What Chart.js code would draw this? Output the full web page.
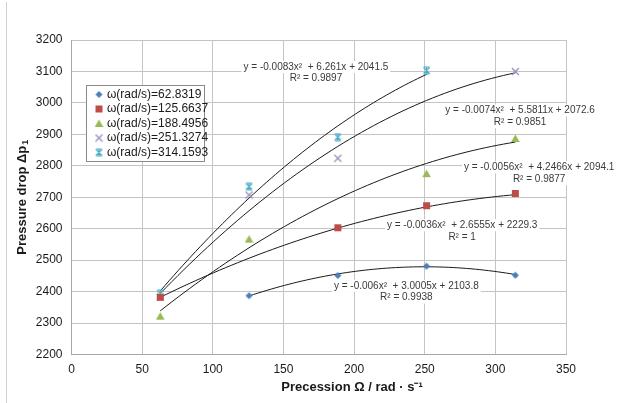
<!DOCTYPE html>
<html>
<head>
<meta charset="utf-8">
<script src="https://cdn.jsdelivr.net/npm/chart.js@4.4.1/dist/chart.umd.min.js"></script>
<style>
  html, body { margin: 0; padding: 0; background: #ffffff; }
  #wrap { width: 618px; height: 403px; position: relative; }
</style>
</head>
<body>
<div id="wrap"><canvas id="c" width="618" height="403"></canvas></div>
<script>
// Rotor speeds (legend entries)
const seriesLabels = [
  'ω(rad/s)=62.8319',
  'ω(rad/s)=125.6637',
  'ω(rad/s)=188.4956',
  'ω(rad/s)=251.3274',
  'ω(rad/s)=314.1593'
];

// Precession speed Ω (rad/s) and measured pressure drop for each rotor speed
const x_w1 = [125.6637, 188.4956, 251.3274, 314.1593];
const y_w1 = [2387, 2451, 2481, 2452];

const x_w2 = [62.8319, 188.4956, 251.3274, 314.1593];
const y_w2 = [2382, 2603, 2673, 2712];

const x_w3 = [62.8319, 125.6637, 251.3274, 314.1593];
const y_w3 = [2322, 2567, 2775, 2887];

const x_w4 = [62.8319, 125.6637, 188.4956, 314.1593];
const y_w4 = [2383, 2707, 2824, 3100];

const x_w5 = [62.8319, 125.6637, 188.4956, 251.3274];
const y_w5 = [2394, 2734, 2891, 3103];

// Quadratic trendlines y = a·x² + b·x + c and their R²
const fitA = [-0.006, -0.0036, -0.0056, -0.0074, -0.0083];
const fitB = [3.0005, 2.6555, 4.2466, 5.5811, 6.261];
const fitC = [2103.8, 2229.3, 2094.1, 2072.6, 2041.5];
const fitR2 = ['0.9938', '1', '0.9877', '0.9851', '0.9897'];

// Axis ticks
const xTicks = [0, 50, 100, 150, 200, 250, 300, 350];
const yTicks = [2200, 2300, 2400, 2500, 2600, 2700, 2800, 2900, 3000, 3100, 3200];

const xs = [x_w1, x_w2, x_w3, x_w4, x_w5];
const ys = [y_w1, y_w2, y_w3, y_w4, y_w5];

const FONT = '"Liberation Sans", Arial, sans-serif';
const colors = ['#4a7ebb', '#be4b48', '#98b954', '#9a88bc', '#4bacc6'];

// Marker glyphs
function marker(kind, color) {
  const cv = document.createElement('canvas');
  const s = 9;
  cv.width = s; cv.height = s;
  const g = cv.getContext('2d');
  g.fillStyle = color; g.strokeStyle = color; g.lineWidth = 1.2;
  if (kind === 'diamond') {
    g.beginPath(); g.moveTo(4.5, 1); g.lineTo(8, 4.5); g.lineTo(4.5, 8); g.lineTo(1, 4.5); g.closePath(); g.fill();
  } else if (kind === 'square') {
    g.fillRect(1, 1, 7, 7);
  } else if (kind === 'triangle') {
    g.beginPath(); g.moveTo(4.5, 0.5); g.lineTo(8.8, 8); g.lineTo(0.2, 8); g.closePath(); g.fill();
  } else if (kind === 'cross') {
    g.beginPath(); g.moveTo(1, 1); g.lineTo(8, 8); g.moveTo(8, 1); g.lineTo(1, 8); g.stroke();
  } else if (kind === 'star') {
    g.beginPath();
    g.moveTo(1.5, 1.5); g.lineTo(7.5, 7.5); g.moveTo(7.5, 1.5); g.lineTo(1.5, 7.5);
    g.moveTo(1.5, 1); g.lineTo(7.5, 1); g.moveTo(1.5, 8); g.lineTo(7.5, 8);
    g.moveTo(4.5, 1); g.lineTo(4.5, 8);
    g.stroke();
  }
  return cv;
}
const markerKinds = ['diamond', 'square', 'triangle', 'cross', 'star'];
const markers = markerKinds.map((k, i) => marker(k, colors[i]));

// Measured points
const pointSets = xs.map((xArr, i) => ({
  label: seriesLabels[i],
  data: xArr.map((x, j) => ({ x: x, y: ys[i][j] })),
  showLine: false,
  pointStyle: markers[i],
  pointRadius: 4,
  pointHoverRadius: 4,
  backgroundColor: colors[i],
  borderColor: colors[i]
}));

// Trendline curves sampled between the first and last measured Ω of each series
const fitSets = xs.map((xArr, i) => {
  const x0 = xArr[0], x1 = xArr[xArr.length - 1];
  const pts = [];
  const n = 60;
  for (let k = 0; k <= n; k++) {
    const x = x0 + (x1 - x0) * k / n;
    pts.push({ x: x, y: fitA[i] * x * x + fitB[i] * x + fitC[i] });
  }
  return {
    label: 'trend ' + i,
    data: pts,
    showLine: true,
    borderColor: '#1a1a1a',
    borderWidth: 1,
    pointRadius: 0,
    pointHoverRadius: 0,
    fill: false,
    tension: 0
  };
});

// Equation label centres in data coordinates (first line), per series
const eqAnchor = [[237, 2418], [276.5, 2611], [331, 2795], [317.5, 2976], [173, 3114]];

const decorations = {
  id: 'decorations',
  beforeDraw(chart) {
    const ctx = chart.ctx;
    ctx.save();
    ctx.fillStyle = '#ffffff';
    ctx.fillRect(0, 0, chart.width, chart.height);
    ctx.restore();
  },
  afterDraw(chart) {
    const ctx = chart.ctx;
    const xs_ = chart.scales.x, ys_ = chart.scales.y;
    ctx.save();

    // outer frame edge
    ctx.strokeStyle = '#d0d0d0';
    ctx.lineWidth = 1;
    ctx.beginPath(); ctx.moveTo(6.5, 2); ctx.lineTo(6.5, 403); ctx.stroke();

    // trendline equations
    ctx.font = '10px ' + FONT;
    ctx.textAlign = 'center';
    ctx.textBaseline = 'middle';
    fitA.forEach((a, i) => {
      const lines = [
        'y = ' + a + 'x²  + ' + fitB[i] + 'x + ' + fitC[i],
        'R² = ' + fitR2[i]
      ];
      const cx = xs_.getPixelForValue(eqAnchor[i][0]);
      const cy = ys_.getPixelForValue(eqAnchor[i][1]);
      lines.forEach((t, k) => {
        const w = ctx.measureText(t).width;
        const yy = cy + k * 11.7;
        ctx.fillStyle = '#ffffff';
        ctx.fillRect(cx - w / 2 - 2, yy - 6, w + 4, 12);
        ctx.fillStyle = '#3a3a3a';
        ctx.fillText(t, cx, yy);
      });
    });

    // axis titles
    ctx.fillStyle = '#1a1a1a';
    ctx.font = 'bold 13px ' + FONT;
    ctx.textAlign = 'center';
    ctx.textBaseline = 'middle';
    ctx.fillText('Precession Ω / rad · s⁻¹', 352, 387);

    ctx.save();
    ctx.translate(22, (chart.chartArea.top + chart.chartArea.bottom) / 2);
    ctx.rotate(-Math.PI / 2);
    const mainTxt = 'Pressure drop Δp';
    const subTxt = '1';
    ctx.font = 'bold 13px ' + FONT;
    const wMain = ctx.measureText(mainTxt).width;
    ctx.font = 'bold 9px ' + FONT;
    const wSub = ctx.measureText(subTxt).width;
    const x0 = -(wMain + wSub + 1) / 2;
    ctx.textAlign = 'left';
    ctx.font = 'bold 13px ' + FONT;
    ctx.fillText(mainTxt, x0, 0);
    ctx.font = 'bold 9px ' + FONT;
    ctx.fillText(subTxt, x0 + wMain + 1, 4);
    ctx.restore();

    // legend
    const lx = 86.5, ly = 85.5, lw = 118, lh = 76;
    ctx.fillStyle = '#ffffff';
    ctx.fillRect(lx, ly, lw, lh);
    ctx.strokeStyle = '#8a8a8a';
    ctx.lineWidth = 1;
    ctx.strokeRect(lx, ly, lw, lh);
    ctx.font = '12px ' + FONT;
    ctx.textAlign = 'left';
    ctx.textBaseline = 'middle';
    seriesLabels.forEach((t, i) => {
      const yy = ly + 9 + i * 14.5;
      ctx.drawImage(markers[i], 99 - 4.5, yy - 4.5);
      ctx.fillStyle = '#1a1a1a';
      ctx.fillText(t, 107, yy);
    });
    ctx.restore();
  }
};

new Chart(document.getElementById('c'), {
  type: 'scatter',
  data: { datasets: pointSets.concat(fitSets) },
  options: {
    responsive: false,
    animation: false,
    devicePixelRatio: 1,
    layout: { padding: { left: 0, right: 52, top: 40, bottom: 0 } },
    plugins: { legend: { display: false }, tooltip: { enabled: false }, title: { display: false } },
    scales: {
      x: {
        type: 'linear',
        min: xTicks[0], max: xTicks[xTicks.length - 1],
        afterBuildTicks(scale) { scale.ticks = xTicks.map(v => ({ value: v })); },
        afterFit(scale) { scale.height = 48.5; },
        grid: { color: '#c4c4c4', lineWidth: 1, drawTicks: false },
        border: { color: '#a8a8a8' },
        ticks: { padding: 8, color: '#1a1a1a', font: { family: FONT, size: 12 }, maxRotation: 0,
                 callback: v => String(v) }
      },
      y: {
        type: 'linear',
        min: yTicks[0], max: yTicks[yTicks.length - 1],
        afterBuildTicks(scale) { scale.ticks = yTicks.map(v => ({ value: v })); },
        afterFit(scale) { scale.width = 71.5; },
        grid: { color: '#c4c4c4', lineWidth: 1, drawTicks: false },
        border: { color: '#a8a8a8' },
        ticks: { padding: 9, color: '#1a1a1a', font: { family: FONT, size: 12 },
                 callback: v => String(v) }
      }
    }
  },
  plugins: [decorations]
});
</script>
</body>
</html>
